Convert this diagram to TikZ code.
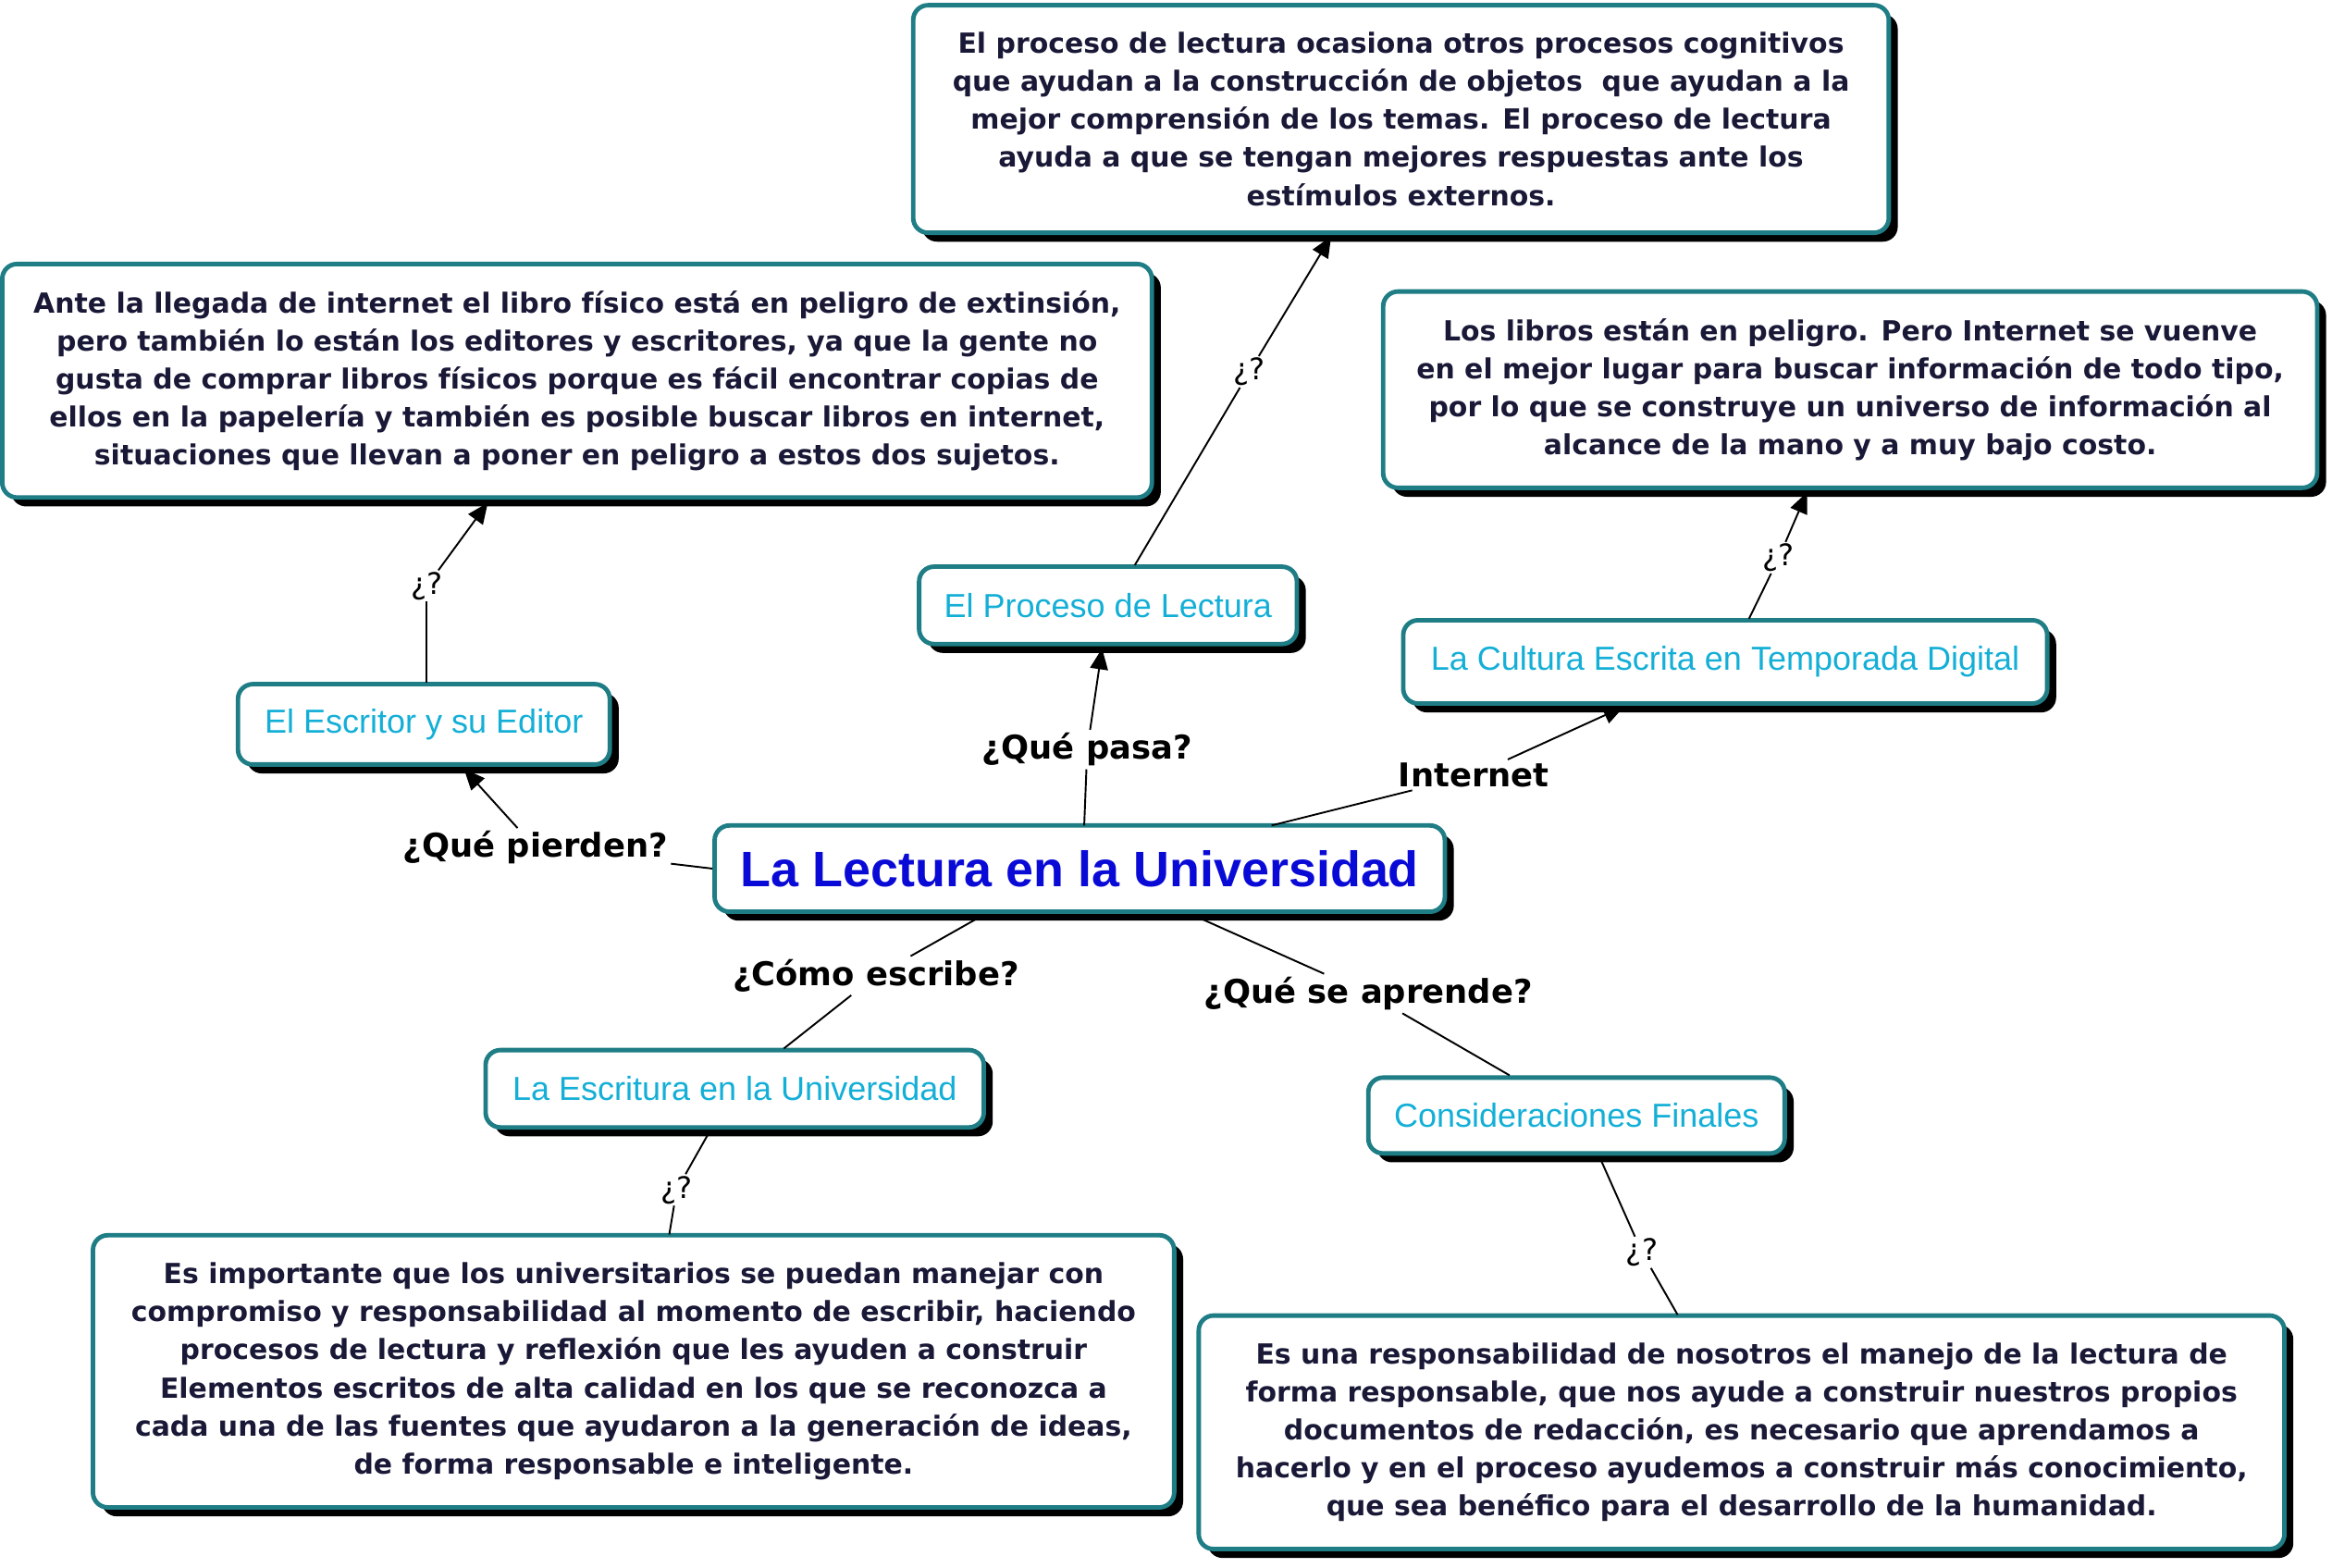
\documentclass[tikz,border=0pt]{standalone}
\usepackage{fontspec}
\setmainfont{DejaVu Sans}
\newfontfamily\arialfont{Liberation Sans}
\usetikzlibrary{arrows.meta,shadows}
\definecolor{rim}{RGB}{30,125,133}
\definecolor{ink}{RGB}{25,25,55}
\definecolor{cyantxt}{RGB}{20,175,215}
\definecolor{titleblue}{RGB}{10,10,215}
\tikzset{
  card/.style={rounded corners=10pt, draw=rim, line width=3pt, fill=white,
    drop shadow={shadow xshift=6pt, shadow yshift=-6pt, fill=black, opacity=1},
    align=center, inner sep=8pt},
  textcard/.style={card, text=ink, font=\fontsize{18.6}{25.6}\selectfont\bfseries},
  topic/.style={card, text=cyantxt, font=\arialfont\fontsize{22.4}{26}\selectfont},
  link/.style={fill=white, inner sep=2pt, font=\fontsize{22}{26}\selectfont\bfseries},
  ask/.style={fill=white, inner sep=1pt, font=\fontsize{20}{24}\selectfont},
  conn/.style={line width=1.2pt},
  arr/.style={conn, -{Triangle[length=14pt,width=12pt]}}
}
\begin{document}
\begin{tikzpicture}[x=1pt,y=-1pt]
  \useasboundingbox[fill=white] (0,0) rectangle (1568,1054);

  %nodos
  \node[card, minimum width=491pt, minimum height=58pt, text=titleblue,
    font=\arialfont\fontsize{33.5}{38}\selectfont\bfseries] (main) at (726,584) {La Lectura en la Universidad};

  \node[topic, minimum width=254pt, minimum height=52pt] (proceso) at (745,407) {El Proceso de Lectura};
  \node[topic, minimum width=250pt, minimum height=54pt] (escritor) at (285,487) {El Escritor y su Editor};
  \node[topic, minimum width=433pt, minimum height=56pt] (cultura) at (1160,445) {La Cultura Escrita en Temporada Digital};
  \node[topic, minimum width=335pt, minimum height=52pt] (escritura) at (494,732) {La Escritura en la Universidad};
  \node[topic, minimum width=280pt, minimum height=51pt] (finales) at (1060,750) {Consideraciones Finales};

  \node[textcard, minimum width=656pt, minimum height=153pt] (tproceso) at (942,80)
    {El proceso de lectura ocasiona otros procesos cognitivos\\que ayudan a la construcción de objetos\ \ que ayudan a la\\mejor comprensión de los temas. El proceso de lectura\\ayuda a que se tengan mejores respuestas ante los\\estímulos externos.};
  \node[textcard, minimum width=773pt, minimum height=157pt] (tescritor) at (388,256)
    {Ante la llegada de internet el libro físico está en peligro de extinsión,\\pero también lo están los editores y escritores, ya que la gente no\\gusta de comprar libros físicos porque es fácil encontrar copias de\\ellos en la papelería y también es posible buscar libros en internet,\\situaciones que llevan a poner en peligro a estos dos sujetos.};
  \node[textcard, minimum width=628pt, minimum height=132pt] (tcultura) at (1244,262)
    {Los libros están en peligro. Pero Internet se vuenve\\en el mejor lugar para buscar información de todo tipo,\\por lo que se construye un universo de información al\\alcance de la mano y a muy bajo costo.};
  \node[textcard, minimum width=727pt, minimum height=183pt] (tescritura) at (426,922)
    {Es importante que los universitarios se puedan manejar con\\compromiso y responsabilidad al momento de escribir, haciendo\\procesos de lectura y reflexión que les ayuden a construir\\Elementos escritos de alta calidad en los que se reconozca a\\cada una de las fuentes que ayudaron a la generación de ideas,\\de forma responsable e inteligente.};
  \node[textcard, minimum width=730pt, minimum height=157pt] (tfinales) at (1171,963)
    {Es una responsabilidad de nosotros el manejo de la lectura de\\forma responsable, que nos ayude a construir nuestros propios\\documentos de redacción, es necesario que aprendamos a\\hacerlo y en el proceso ayudemos a construir más conocimiento,\\que sea benéfico para el desarrollo de la humanidad.};

  %enlaces
  \node[link] (lpasa) at (731,504) {¿Qué pasa?};
  \node[link] (linternet) at (991,521) {Internet};
  \node[link] (lpierden) at (360,570) {¿Qué pierden?};
  \node[link] (lcomo) at (589,656) {¿Cómo escribe?};
  \node[link] (laprende) at (920,668) {¿Qué se aprende?};
  \node[ask] (q1) at (840,250) {¿?};
  \node[ask] (q2) at (287,394) {¿?};
  \node[ask] (q3) at (1196,375) {¿?};
  \node[ask] (q4) at (455,800) {¿?};
  \node[ask] (q5) at (1104,842) {¿?};

  %puntos de contacto
  \coordinate (m1) at (729,555);
  \coordinate (m2) at (855,555);
  \coordinate (m3) at (658,617);
  \coordinate (m4) at (806,617);
  \coordinate (p1) at (741,436);
  \coordinate (p2) at (763,380);
  \coordinate (c1) at (1092,475);
  \coordinate (c2) at (1176,416);
  \coordinate (e1) at (312,517);
  \coordinate (e2) at (287,459);
  \coordinate (w1) at (527,705);
  \coordinate (w2) at (477,761);
  \coordinate (f1) at (1015,723);
  \coordinate (f2) at (1076,779);
  \coordinate (t1) at (895,159);
  \coordinate (t2) at (328,338);
  \coordinate (t3) at (1215,331);
  \coordinate (t4) at (450,830);
  \coordinate (t5) at (1128,884);

  %conectores
  \draw[conn] (m1) -- (lpasa);
  \draw[arr] (lpasa) -- (p1);
  \draw[conn] (m2) -- (linternet);
  \draw[arr] (linternet) -- (c1);
  \draw[conn] (main.west) -- (lpierden);
  \draw[arr] (lpierden) -- (e1);
  \draw[conn] (m3) -- (lcomo);
  \draw[conn] (lcomo) -- (w1);
  \draw[conn] (m4) -- (laprende);
  \draw[conn] (laprende) -- (f1);
  \draw[conn] (p2) -- (q1);
  \draw[arr] (q1) -- (t1);
  \draw[conn] (e2) -- (q2);
  \draw[arr] (q2) -- (t2);
  \draw[conn] (c2) -- (q3);
  \draw[arr] (q3) -- (t3);
  \draw[conn] (w2) -- (q4);
  \draw[conn] (q4) -- (t4);
  \draw[conn] (f2) -- (q5);
  \draw[conn] (q5) -- (t5);
\end{tikzpicture}
\end{document}
